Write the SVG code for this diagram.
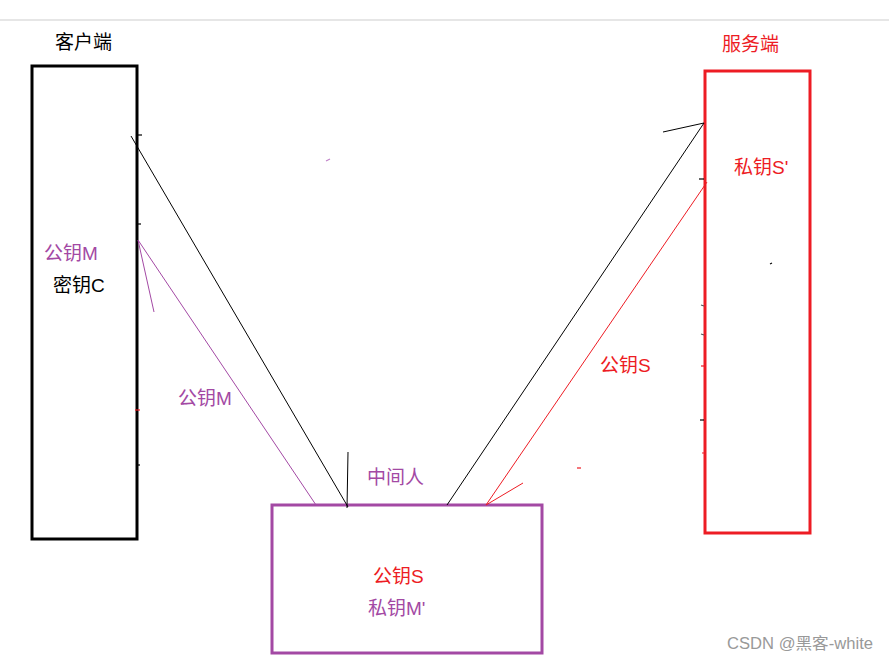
<svg xmlns="http://www.w3.org/2000/svg" width="889" height="662" viewBox="0 0 889 662">
<style>
text{font-family:"Liberation Sans","Noto Sans CJK SC",sans-serif;font-size:19px}
.blk{fill:#000}
.red{fill:#ed1c24}
.pur{fill:#a349a4}
.box{fill:none;stroke-width:3}
.ln{fill:none;stroke-width:1}
.tk{stroke-width:1.2}
</style>
<rect width="889" height="662" fill="#fff"/>
<line x1="0" y1="20" x2="889" y2="20" stroke="#e6e6e6" stroke-width="2"/>
<g id="client">
<rect class="box" x="32" y="66" width="105" height="473" stroke="#000"/>
<text class="blk" x="55" y="49">客户端</text>
<text class="pur" x="44" y="260">公钥M</text>
<text class="blk" x="53" y="292">密钥C</text>
</g>
<g id="server">
<rect class="box" x="705" y="71" width="105" height="462" stroke="#ed1c24"/>
<text class="red" x="722" y="51">服务端</text>
<text class="red" x="734" y="174">私钥S'</text>
</g>
<g id="middleman">
<rect class="box" x="272" y="505" width="270" height="148" stroke="#a349a4"/>
<text class="pur" x="367" y="484">中间人</text>
<text class="red" x="373" y="583">公钥S</text>
<text class="pur" x="368" y="615">私钥M'</text>
</g>
<g id="connectors">
<line class="ln" x1="348" y1="507" x2="131" y2="136" stroke="#000"/>
<line class="ln" x1="348" y1="452" x2="347" y2="508" stroke="#000" stroke-width="1.3"/>
<line class="ln" x1="447" y1="505" x2="704" y2="123" stroke="#000"/>
<line class="ln" x1="663" y1="132" x2="704" y2="123" stroke="#000" stroke-width="1.3"/>
<line class="ln" x1="486" y1="505" x2="707" y2="182" stroke="#ed1c24"/>
<line class="ln" x1="486" y1="505" x2="523" y2="483" stroke="#ed1c24"/>
<line class="ln" x1="316" y1="505" x2="138" y2="240" stroke="#a349a4"/>
<line class="ln" x1="138" y1="240" x2="154" y2="312" stroke="#a349a4"/>
<text class="pur" x="178" y="405">公钥M</text>
<text class="red" x="600" y="372">公钥S</text>
</g>
<g id="marks">
<line class="tk" x1="137" y1="135" x2="142" y2="135" stroke="#000"/>
<line class="tk" x1="137" y1="224" x2="141" y2="224" stroke="#000"/>
<line class="tk" x1="135" y1="410" x2="140" y2="410" stroke="#ed1c24"/>
<line class="tk" x1="137" y1="465" x2="140" y2="465" stroke="#000"/>
<line class="tk" x1="699" y1="179" x2="704" y2="179" stroke="#000"/>
<line class="tk" x1="701" y1="305" x2="704" y2="306" stroke="#555"/>
<line class="tk" x1="701" y1="334" x2="704" y2="335" stroke="#555"/>
<line class="tk" x1="701" y1="366" x2="704" y2="366" stroke="#ed1c24"/>
<line class="tk" x1="700" y1="420" x2="704" y2="420" stroke="#000"/>
<line class="tk" x1="702" y1="453" x2="704" y2="453" stroke="#ed1c24"/>
<line class="tk" x1="770" y1="264" x2="772" y2="263" stroke="#000"/>
<line class="tk" x1="326" y1="161" x2="330" y2="159" stroke="#c080c8"/>
<line class="tk" x1="577" y1="468" x2="581" y2="468" stroke="#ed1c24"/>
</g>
<text x="727" y="649" fill="#999" textLength="146" lengthAdjust="spacingAndGlyphs" style="font-size:16px">CSDN @黑客-white</text>
</svg>
